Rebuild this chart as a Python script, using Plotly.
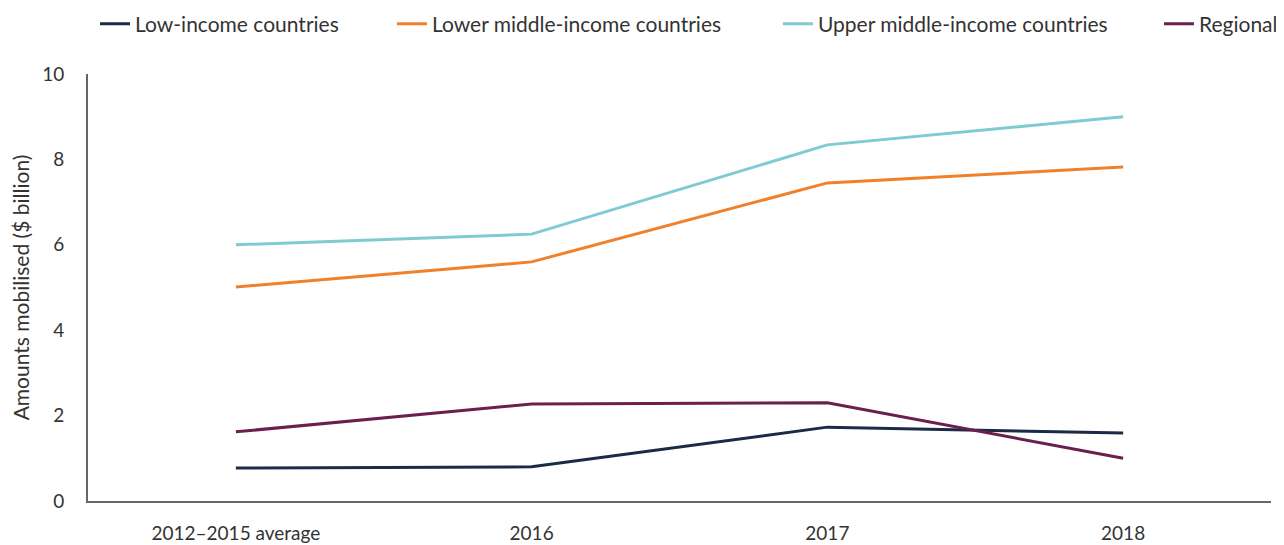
import plotly.graph_objects as go

categories = ["2012–2015 average", "2016", "2017", "2018"]
low_income = [0.77, 0.80, 1.73, 1.59]
lower_middle = [5.01, 5.60, 7.45, 7.82]
upper_middle = [6.00, 6.25, 8.34, 9.00]
regional = [1.62, 2.27, 2.30, 1.00]

series = [
    ("Low-income countries", low_income, "#1b2a47", "legend", 0.0682),
    ("Lower middle-income countries", lower_middle, "#f0812a", "legend2", 0.3009),
    ("Upper middle-income countries", upper_middle, "#7ecbd2", "legend3", 0.6034),
    ("Regional", regional, "#6b1f4f", "legend4", 0.9020),
]

# page body has ~8px margin, so figure is a bit smaller than the window
W, H = 1276, 537

fig = go.Figure()
legends = {}
for name, vals, color, leg, lx in series:
    fig.add_trace(go.Scatter(
        x=categories,
        y=vals,
        mode='lines',
        name=name,
        legend=leg,
        showlegend=True,
        line=dict(color=color, width=3),
    ))
    legends[leg] = dict(
        orientation='h',
        xref='container', x=lx, xanchor='left',
        yref='container', y=0.970, yanchor='middle',
        font=dict(size=21, color="#333333"),
        bgcolor='rgba(0,0,0,0)',
        visible=True,
    )

fig.update_layout(
    width=W, height=H,
    showlegend=True,
    margin=dict(l=80, r=13, t=66, b=44, autoexpand=False),
    paper_bgcolor='white',
    plot_bgcolor='white',
    font=dict(family="Lato", size=19, color="#333333"),
    **legends,
)

fig.update_xaxes(
    type='category',
    range=[-0.5, 3.5],
    showgrid=False,
    showline=True, linecolor='#666666', linewidth=2,
    ticks='', ticklabelstandoff=14,
    tickfont=dict(size=19),
    automargin=False,
)
fig.update_yaxes(
    range=[0, 10],
    tickvals=[0, 2, 4, 6, 8, 10],
    showgrid=False, zeroline=False,
    showline=True, linecolor='#666666', linewidth=2,
    ticks='', ticklabelstandoff=18,
    tickfont=dict(size=19),
    title=dict(text="Amounts mobilised ($ billion)", font=dict(size=21), standoff=8),
    automargin=False,
)

fig.write_html("out.html")
